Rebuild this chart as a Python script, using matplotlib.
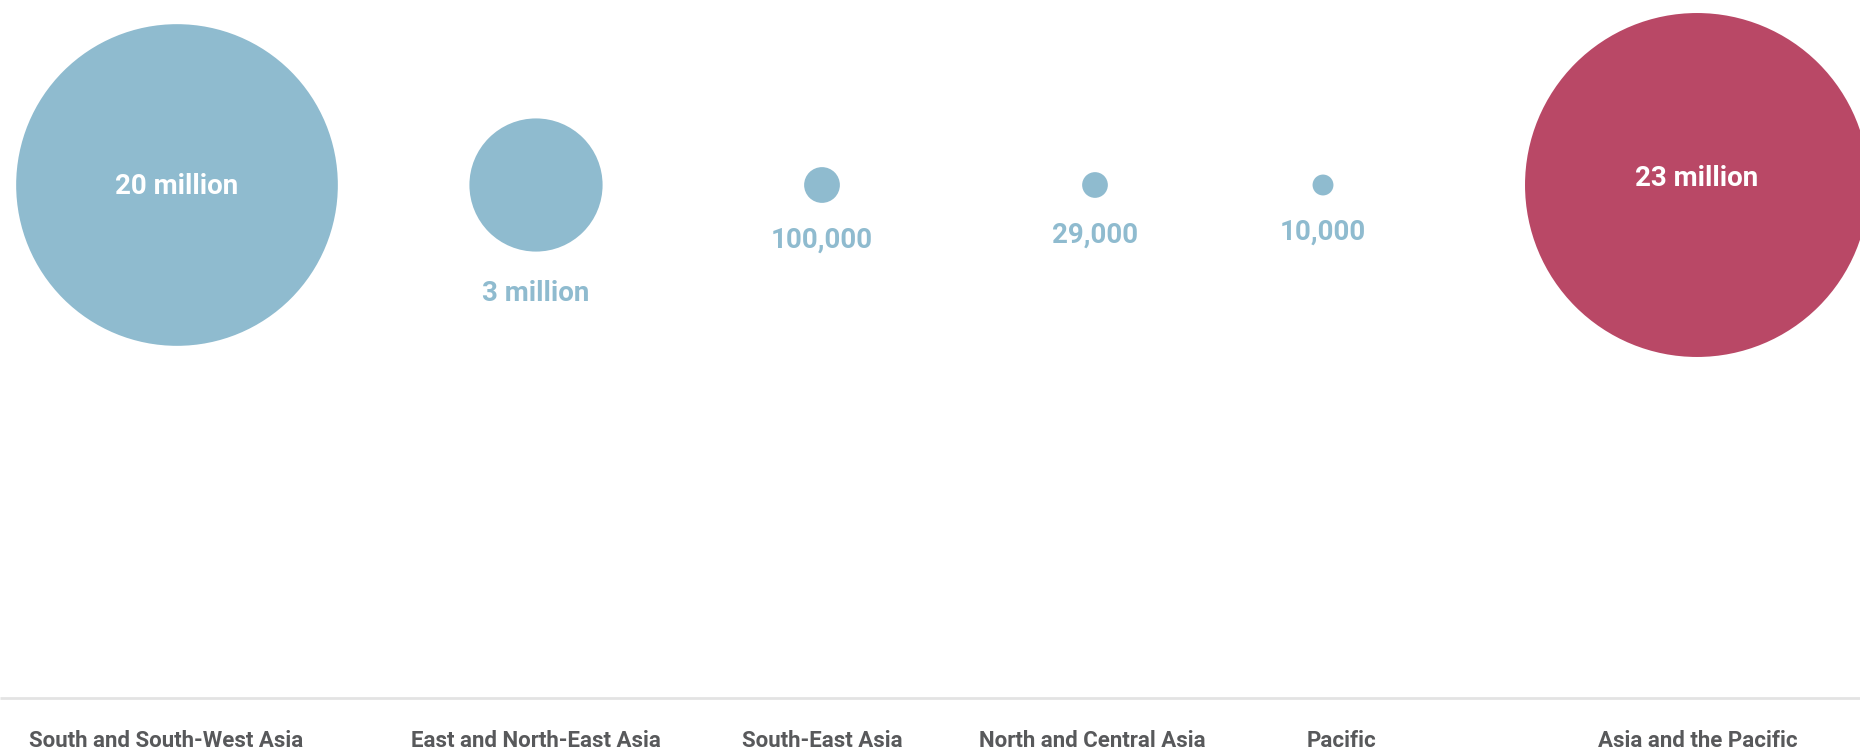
import matplotlib
matplotlib.use("Agg")
import matplotlib.pyplot as plt
from matplotlib.patches import Circle
import numpy as np

# data
regions = ["South and South-West Asia", "East and North-East Asia", "South-East Asia",
           "North and Central Asia", "Pacific", "Asia and the Pacific"]
values = [20_000_000, 3_000_000, 100_000, 29_000, 10_000, 23_000_000]
value_labels = ["20 million", "3 million", "100,000", "29,000", "10,000", "23 million"]
is_total = [False, False, False, False, False, True]

# layout (pixel space of the 1860x749 canvas)
W, H = 1860, 749
x_pos = [177, 536, 822, 1095, 1323, 1697]
label_x = [166, 536, 822, 1092, 1341, 1698]
cy = 185
baseline_y = 698
label_y = 741

BLUE = "#8fbbcf"
RED = "#b94866"
GREY_TEXT = "#58595b"

plt.rcParams["font.family"] = ["Roboto", "DejaVu Sans"]

fig = plt.figure(figsize=(W / 100, H / 100), dpi=100)
ax = fig.add_axes([0, 0, 1, 1])
ax.set_xlim(0, W)
ax.set_ylim(H, 0)
ax.set_aspect("equal")
ax.axis("off")

# sqrt scale with a small floor so tiny values stay visible
radii = 7 + 0.0344 * np.sqrt(np.array(values, dtype=float))

for x, r, lab, total in zip(x_pos, radii, value_labels, is_total):
    color = RED if total else BLUE
    ax.add_patch(Circle((x, cy), r, color=color, lw=0))
    if r > 100:
        dy = -7 if total else 1
        ax.text(x, cy + dy, lab, color="white", fontsize=20, fontweight="bold",
                ha="center", va="center")
    else:
        ax.text(x, cy + 1.09 * r + 36, lab, color=BLUE, fontsize=20, fontweight="bold",
                ha="center", va="center")

ax.plot([0, W], [baseline_y, baseline_y], color="#e3e3e3", lw=2, solid_capstyle="butt")

for x, name in zip(label_x, regions):
    ax.text(x, label_y, name, color=GREY_TEXT, fontsize=16, fontweight="bold",
            ha="center", va="center")

fig.savefig("out.png", dpi=100)
